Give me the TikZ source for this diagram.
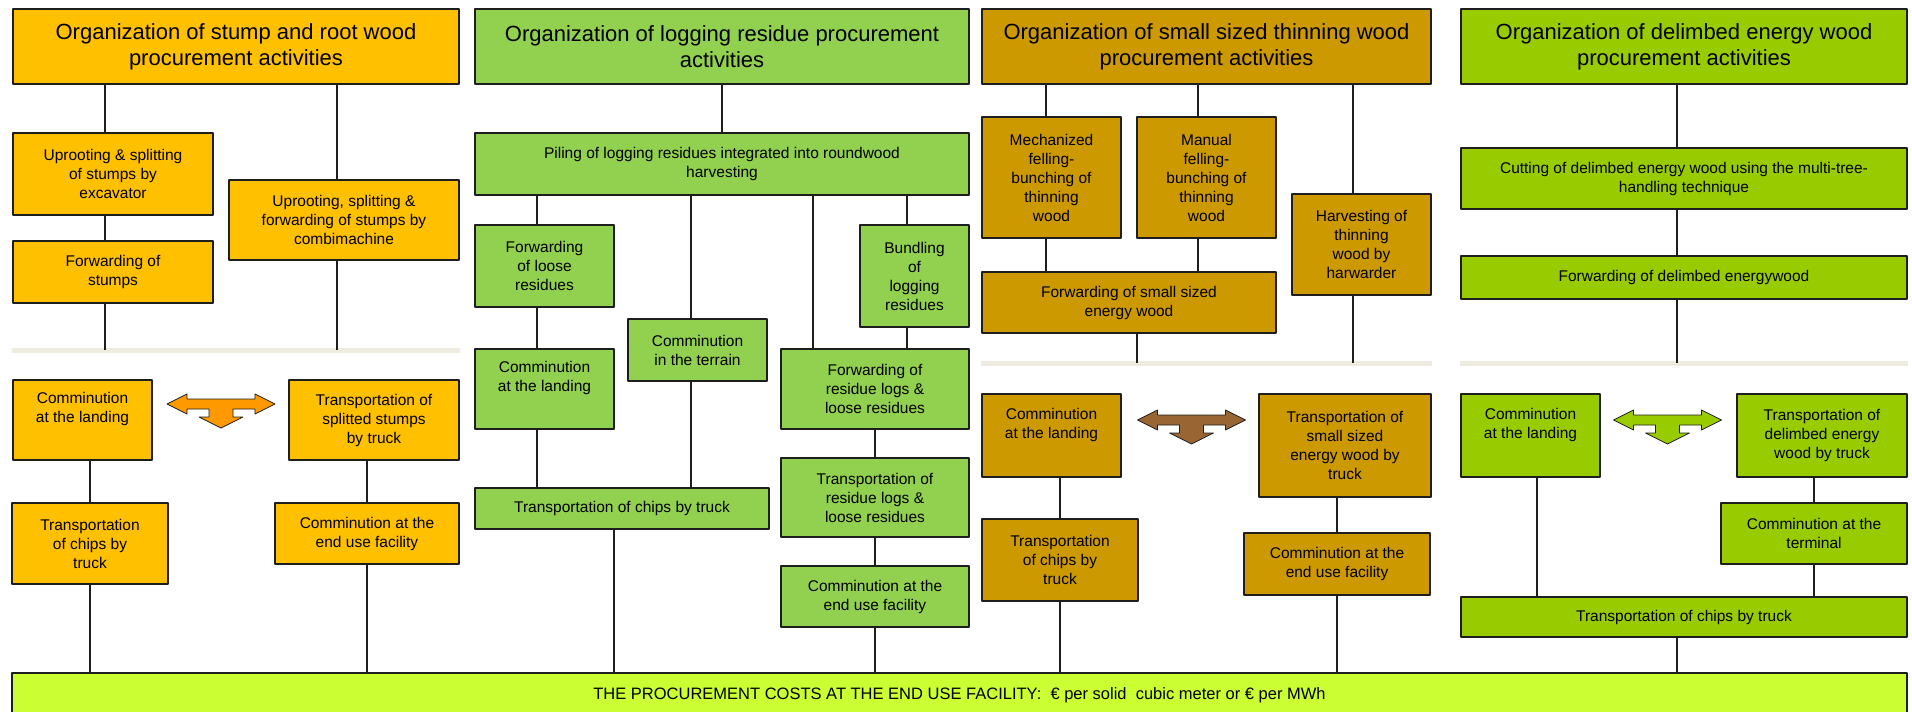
\documentclass[tikz,border=0pt]{standalone}
\usepackage{fontspec}
\setmainfont{Liberation Sans}
\usepackage{tikz}
\definecolor{stump}{HTML}{FFC000}
\definecolor{resid}{HTML}{92D050}
\definecolor{thinwood}{HTML}{CC9900}
\definecolor{delim}{HTML}{99CC00}
\definecolor{costs}{HTML}{CCFF33}
\definecolor{sepgray}{HTML}{EEECE1}
\definecolor{forkorange}{HTML}{FF9900}
\definecolor{forkbrown}{HTML}{996633}
\definecolor{rim}{HTML}{1E1E1E}
\newcommand{\forkarrow}[2]{%
  \draw[fork, fill=#2, shift={(#1)}] (-54,10) -- (-34,0) -- (-34,5) -- (34,5) -- (34,0) -- (54,10)
    -- (34,20) -- (34,15) -- (12,15) -- (12,23) -- (22,23) -- (0,34) -- (-22,23) -- (-12,23)
    -- (-12,15) -- (-34,15) -- (-34,20) -- cycle;}

\begin{document}
\begin{tikzpicture}[x=1pt, y=-1pt, line join=round,
    box/.style={draw=rim, line width=1.5pt, align=center, inner sep=0pt,
                font=\fontsize{15.5}{19}\selectfont},
    head/.style={box, font=\fontsize{22}{26}\selectfont},
    sz/.style 2 args={minimum width=#1pt, minimum height=#2pt},
    ln/.style={line width=1.4pt, rim},
    sep/.style={line width=5pt, sepgray},
    fork/.style={draw=rim, line width=0.8pt}]
  \useasboundingbox (0,0) rectangle (1912,712);
  % stump and root wood
  \node[head, fill=stump, sz={446}{75}] (hA) at (236,46.5) {Organization of stump and root wood\\procurement activities};
  \node[box, fill=stump, sz={200}{82}]  (uA) at (113,174)   {Uprooting \& splitting\\of stumps by\\excavator};
  \node[box, fill=stump, sz={200}{62}]  (fA) at (113,272)   {Forwarding of\\stumps};
  \node[box, fill=stump, sz={230}{80}]  (cA) at (344,220)   {Uprooting, splitting \&\\forwarding of stumps by\\combimachine};
  \node[box, fill=stump, sz={139}{80}]  (lA) at (82.5,420)  {Comminution\\at the landing\\\strut};
  \node[box, fill=stump, sz={170}{80}]  (sA) at (374,420)   {Transportation of\\splitted stumps\\by truck};
  \node[box, fill=stump, sz={156}{81}]  (tA) at (90,543.5)  {Transportation\\of chips by\\truck};
  \node[box, fill=stump, sz={184}{61}]  (eA) at (367,533.5) {Comminution at the\\end use facility};
  % logging residues
  \node[head, fill=resid, sz={494}{75}] (hB)  at (722,46.5)  {Organization of logging residue procurement\\activities};
  \node[box, fill=resid, sz={494}{62}]  (pB)  at (722,164)   {Piling of logging residues integrated into roundwood\\harvesting};
  \node[box, fill=resid, sz={139}{82}]  (fB)  at (544.5,266) {Forwarding\\of loose\\residues};
  \node[box, fill=resid, sz={109}{102}] (bB)  at (914.5,276) {Bundling\\of\\logging\\residues};
  \node[box, fill=resid, sz={139}{62}]  (tiB) at (697.5,350) {Comminution\\in the terrain};
  \node[box, fill=resid, sz={139}{80}]  (lB)  at (544.5,389) {Comminution\\at the landing\\\strut};
  \node[box, fill=resid, sz={188}{80}]  (rB)  at (875,389)   {Forwarding of\\residue logs \&\\loose residues};
  \node[box, fill=resid, sz={188}{79}]  (trB) at (875,497.5) {Transportation of\\residue logs \&\\loose residues};
  \node[box, fill=resid, sz={188}{61}]  (eB)  at (875,596.5) {Comminution at the\\end use facility};
  \node[box, fill=resid, sz={294}{41}]  (tB)  at (622,508.5) {Transportation of chips by truck};
  % small sized thinning wood
  \node[head, fill=thinwood, sz={449}{75}] (hC)  at (1206.5,46.5) {Organization of small sized thinning wood\\procurement activities};
  \node[box, fill=thinwood, sz={139}{121}] (mC)  at (1051.5,177.5) {Mechanized\\felling-\\bunching of\\thinning\\wood};
  \node[box, fill=thinwood, sz={139}{121}] (nC)  at (1206.5,177.5) {Manual\\felling-\\bunching of\\thinning\\wood};
  \node[box, fill=thinwood, sz={294}{61}]  (fC)  at (1129,302.5)   {Forwarding of small sized\\energy wood};
  \node[box, fill=thinwood, sz={139}{101}] (hvC) at (1361.5,244.5) {Harvesting of\\thinning\\wood by\\harwarder};
  \node[box, fill=thinwood, sz={139}{83}]  (lC)  at (1051.5,435.5) {Comminution\\at the landing\\\strut};
  \node[box, fill=thinwood, sz={172}{103}] (sC)  at (1345,445.5)   {Transportation of\\small sized\\energy wood by\\truck};
  \node[box, fill=thinwood, sz={156}{82}]  (tC)  at (1060,560)     {Transportation\\of chips by\\truck};
  \node[box, fill=thinwood, sz={186}{62}]  (eC)  at (1337,564)     {Comminution at the\\end use facility};
  % delimbed energy wood
  \node[head, fill=delim, sz={446}{75}] (hD) at (1684,46.5)   {Organization of delimbed energy wood\\procurement activities};
  \node[box, fill=delim, sz={446}{61}]  (kD) at (1684,178.5)  {Cutting of delimbed energy wood using the multi-tree-\\handling technique};
  \node[box, fill=delim, sz={446}{43}]  (fD) at (1684,277.5)  {Forwarding of delimbed energywood};
  \node[box, fill=delim, sz={139}{83}]  (lD) at (1530.5,435.5) {Comminution\\at the landing\\\strut};
  \node[box, fill=delim, sz={170}{83}]  (sD) at (1822,435.5)  {Transportation of\\delimbed energy\\wood by truck};
  \node[box, fill=delim, sz={186}{61}]  (mD) at (1814,533.5)  {Comminution at the\\terminal};
  \node[box, fill=delim, sz={446}{40}]  (tD) at (1684,617)    {Transportation of chips by truck};
  % common cost bar
  \node[box, fill=costs, sz={1895}{44}, anchor=north, font=\fontsize{16.5}{19}\selectfont] (bar) at (959.5,672)
    {THE PROCUREMENT COSTS AT THE END USE FACILITY:~~€ per solid~ cubic meter or € per MWh};
  % separators and forks
  \coordinate (sepA) at (0,350);
  \coordinate (sepC) at (0,363);
  \draw[sep] (hA.west |- sepA) -- (hA.east |- sepA);
  \draw[sep] (hC.west |- sepC) -- (hC.east |- sepC);
  \draw[sep] (hD.west |- sepC) -- (hD.east |- sepC);
  \forkarrow{221,394}{forkorange}
  \forkarrow{1191.5,410}{forkbrown}
  \forkarrow{1667.5,410}{delim}
  % trunk positions
  \coordinate (xa1) at (105,0);  \coordinate (xa2) at (337,0);
  \coordinate (xb1) at (537,0);  \coordinate (xb2) at (691,0);
  \coordinate (xb3) at (813,0);  \coordinate (xb4) at (907,0);
  \coordinate (xb5) at (614,0);
  \coordinate (xc1) at (1046,0); \coordinate (xc2) at (1198,0);
  \coordinate (xc3) at (1353,0); \coordinate (xc4) at (1137,0);
  \coordinate (xd1) at (1677,0); \coordinate (xd3) at (1537,0);
  \draw[ln] (hA.south -| xa1) -- (uA.north -| xa1);
  \draw[ln] (uA.south -| xa1) -- (fA.north -| xa1);
  \draw[ln] (fA.south -| xa1) -- (sepA -| xa1);
  \draw[ln] (hA.south -| xa2) -- (cA.north -| xa2);
  \draw[ln] (cA.south -| xa2) -- (sepA -| xa2);
  \draw[ln] (lA.south -| tA) -- (tA.north);
  \draw[ln] (tA.south) -- (tA.south |- bar.north);
  \draw[ln] (sA.south -| eA) -- (eA.north);
  \draw[ln] (eA.south) -- (eA.south |- bar.north);
  \draw[ln] (hB.south) -- (pB.north);
  \draw[ln] (pB.south -| xb1) -- (fB.north -| xb1);
  \draw[ln] (fB.south -| xb1) -- (lB.north -| xb1);
  \draw[ln] (lB.south -| xb1) -- (tB.north -| xb1);
  \draw[ln] (pB.south -| xb2) -- (tiB.north -| xb2);
  \draw[ln] (tiB.south -| xb2) -- (tB.north -| xb2);
  \draw[ln] (pB.south -| xb3) -- (rB.north -| xb3);
  \draw[ln] (pB.south -| xb4) -- (bB.north -| xb4);
  \draw[ln] (bB.south -| xb4) -- (rB.north -| xb4);
  \draw[ln] (rB.south -| trB) -- (trB.north);
  \draw[ln] (trB.south) -- (eB.north);
  \draw[ln] (eB.south) -- (eB.south |- bar.north);
  \draw[ln] (tB.south -| xb5) -- (bar.north -| xb5);
  \draw[ln] (hC.south -| xc1) -- (mC.north -| xc1);
  \draw[ln] (mC.south -| xc1) -- (fC.north -| xc1);
  \draw[ln] (hC.south -| xc2) -- (nC.north -| xc2);
  \draw[ln] (nC.south -| xc2) -- (fC.north -| xc2);
  \draw[ln] (hC.south -| xc3) -- (hvC.north -| xc3);
  \draw[ln] (hvC.south -| xc3) -- (sepC -| xc3);
  \draw[ln] (fC.south -| xc4) -- (sepC -| xc4);
  \draw[ln] (lC.south -| tC) -- (tC.north);
  \draw[ln] (tC.south) -- (tC.south |- bar.north);
  \draw[ln] (sC.south -| eC) -- (eC.north);
  \draw[ln] (eC.south) -- (eC.south |- bar.north);
  \draw[ln] (hD.south -| xd1) -- (kD.north -| xd1);
  \draw[ln] (kD.south -| xd1) -- (fD.north -| xd1);
  \draw[ln] (fD.south -| xd1) -- (sepC -| xd1);
  \draw[ln] (sD.south -| mD) -- (mD.north);
  \draw[ln] (mD.south) -- (tD.north -| mD);
  \draw[ln] (lD.south -| xd3) -- (tD.north -| xd3);
  \draw[ln] (tD.south -| xd1) -- (bar.north -| xd1);
\end{tikzpicture}
\end{document}
